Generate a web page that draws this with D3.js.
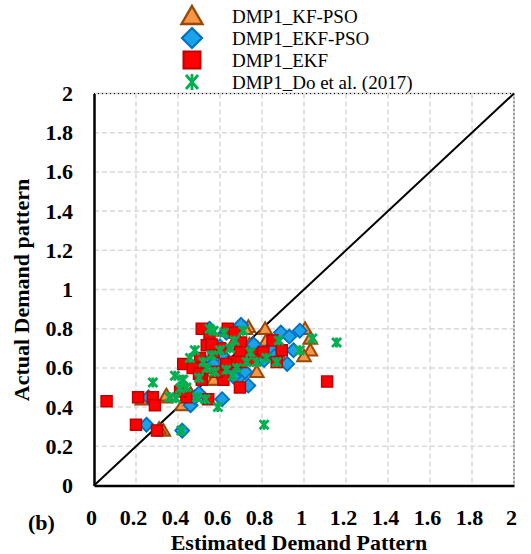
<!DOCTYPE html>
<html><head><meta charset="utf-8">
<script src="https://cdn.jsdelivr.net/npm/d3@7"></script>
<style>body{margin:0;background:#fff}svg{display:block}</style>
</head><body>
<svg id="c" width="531" height="554"></svg>
<script>
const xTicks = [0,0.2,0.4,0.6,0.8,1,1.2,1.4,1.6,1.8,2];
const yTicks = [0,0.2,0.4,0.6,0.8,1,1.2,1.4,1.6,1.8,2];
const seriesNames = ["DMP1_KF-PSO","DMP1_EKF-PSO","DMP1_EKF","DMP1_Do et al. (2017)"];
const kfPso = [[0.23,0.44],[0.34,0.45],[0.345,0.46],[0.33,0.28],[0.42,0.41],[0.31,0.29],[0.54,0.54],[0.57,0.54],[0.735,0.81],[0.815,0.80],[1.005,0.80],[1.03,0.75],[1.03,0.69],[1.0,0.66],[0.775,0.58],[0.82,0.74],[0.74,0.72],[0.88,0.67],[0.72,0.80],[0.62,0.79],[0.66,0.72],[0.60,0.62],[0.46,0.47],[0.52,0.60],[0.70,0.66],[0.78,0.70],[0.68,0.61]];
const ekfPso = [[0.25,0.31],[0.26,0.45],[0.42,0.28],[0.46,0.41],[0.48,0.45],[0.61,0.44],[0.735,0.51],[0.695,0.555],[0.72,0.58],[0.665,0.555],[0.89,0.78],[0.93,0.76],[0.98,0.79],[0.95,0.69],[0.92,0.62],[0.84,0.70],[0.81,0.64],[0.76,0.72],[0.70,0.82],[0.55,0.80],[0.60,0.71],[0.61,0.665],[0.50,0.47],[0.52,0.64],[0.64,0.60],[0.57,0.62],[0.77,0.66],[0.86,0.66],[0.63,0.78]];
const ekf = [[0.06,0.43],[0.21,0.45],[0.28,0.45],[0.29,0.41],[0.20,0.31],[0.30,0.28],[0.513,0.80],[0.637,0.80],[0.67,0.78],[0.70,0.73],[0.55,0.76],[0.537,0.715],[0.695,0.68],[0.75,0.67],[0.806,0.68],[0.85,0.74],[0.894,0.69],[0.425,0.62],[0.505,0.65],[0.505,0.58],[0.513,0.54],[0.616,0.54],[0.695,0.50],[0.665,0.63],[0.70,0.63],[0.57,0.68],[0.585,0.58],[0.44,0.45],[0.544,0.44],[1.11,0.53],[0.51,0.60],[0.87,0.63],[0.41,0.48],[0.60,0.70],[0.63,0.62],[0.47,0.60],[0.56,0.72],[0.76,0.64],[0.50,0.57]];
const doEtAl = [[0.28,0.525],[0.39,0.445],[0.385,0.56],[0.42,0.54],[0.44,0.50],[0.81,0.31],[1.155,0.73],[0.416,0.28],[0.57,0.79],[0.71,0.79],[0.67,0.74],[0.88,0.74],[1.04,0.75],[0.98,0.69],[0.87,0.63],[0.48,0.69],[0.457,0.65],[0.52,0.63],[0.56,0.665],[0.60,0.69],[0.648,0.70],[0.745,0.68],[0.775,0.63],[0.82,0.65],[0.63,0.59],[0.575,0.58],[0.425,0.54],[0.41,0.495],[0.49,0.45],[0.53,0.44],[0.59,0.40],[0.537,0.60],[0.68,0.60],[0.727,0.63],[0.36,0.45],[0.55,0.80],[0.62,0.78],[0.66,0.56],[0.50,0.55]];

const svg = d3.select("#c");
const L=94, R=514, T=93.5, B=485.5;
const x = d3.scaleLinear().domain([0,2]).range([L,R]);
const y = d3.scaleLinear().domain([0,2]).range([B,T]);
const serif = "'Liberation Serif','Times New Roman',serif";

// grid
const g = svg.append("g");
g.selectAll(".gx").data(xTicks.slice(1,-1)).enter().append("line")
  .attr("x1",d=>x(d)).attr("x2",d=>x(d)).attr("y1",T).attr("y2",B)
  .attr("stroke","#d9d9d9").attr("stroke-width",1.5).attr("stroke-dasharray","5,3");
g.selectAll(".gy").data(yTicks.slice(1,-1)).enter().append("line")
  .attr("y1",d=>y(d)).attr("y2",d=>y(d)).attr("x1",L).attr("x2",R)
  .attr("stroke","#d9d9d9").attr("stroke-width",1.5).attr("stroke-dasharray","5,3");
// top/right dotted borders
svg.append("line").attr("x1",L).attr("x2",R).attr("y1",T).attr("y2",T).attr("stroke","#d9d9d9").attr("stroke-width",2);
svg.append("line").attr("x1",L).attr("x2",R).attr("y1",T).attr("y2",T).attr("stroke","#000").attr("stroke-width",1).attr("stroke-dasharray","1,3");
svg.append("line").attr("x1",R).attr("x2",R).attr("y1",T).attr("y2",B).attr("stroke","#d9d9d9").attr("stroke-width",2);
svg.append("line").attr("x1",R).attr("x2",R).attr("y1",T).attr("y2",B).attr("stroke","#000").attr("stroke-width",1).attr("stroke-dasharray","1,3");

// axes
const xAxis = svg.append("g").attr("transform",`translate(0,${B})`)
  .call(d3.axisBottom(x).tickValues(xTicks).tickSize(0).tickFormat(d3.format("~g")));
xAxis.select(".domain").attr("stroke","#000").attr("stroke-width",2.5);
xAxis.selectAll("text").attr("font-family",serif).attr("font-weight","bold").attr("font-size",22)
  .attr("fill","#000").attr("dy",0).attr("y",39).attr("dx",-3);
const yAxis = svg.append("g").attr("transform",`translate(${L},0)`)
  .call(d3.axisLeft(y).tickValues(yTicks).tickSize(0).tickFormat(d3.format("~g")));
yAxis.select(".domain").attr("stroke","#000").attr("stroke-width",2.5);
yAxis.selectAll("text").attr("font-family",serif).attr("font-weight","bold").attr("font-size",22)
  .attr("fill","#000").attr("x",-21);

// diagonal
svg.append("line").attr("x1",x(0)).attr("y1",y(0)).attr("x2",x(2)).attr("y2",y(2))
  .attr("stroke","#000").attr("stroke-width",2);

// markers
const triPath = r => `M0,${-r}L${r*1.05},${r*0.8}L${-r*1.05},${r*0.8}Z`;
const diaPath = r => `M0,${-r}L${r},0L0,${r}L${-r},0Z`;
const sqPath = r => `M${-r},${-r}H${r}V${r}H${-r}Z`;
function drawStar(sel){
  sel.append("path").attr("d","M-4.5,-4.5L4.5,4.5M-4.5,4.5L4.5,-4.5M0,-5L0,5").attr("stroke","#00b050").attr("stroke-width",2.8).attr("fill","none");
}
const styles = [
  {data:kfPso, draw:s=>s.append("path").attr("d",triPath(6.5)).attr("fill","#f79646").attr("stroke","#984807").attr("stroke-width",2)},
  {data:ekfPso, draw:s=>s.append("path").attr("d",diaPath(7)).attr("fill","#1aa3e8").attr("stroke","#0070c0").attr("stroke-width",1.8)},
  {data:ekf, draw:s=>s.append("path").attr("d",sqPath(5.5)).attr("fill","#ff0000").attr("stroke","#c00000").attr("stroke-width",1.5)},
  {data:doEtAl, draw:drawStar}
];
styles.forEach(st=>{
  svg.append("g").selectAll("g").data(st.data).enter().append("g")
    .attr("transform",d=>`translate(${x(d[0])},${y(d[1])})`).call(st.draw);
});

// legend
const legY = [16,38,60,82];
const lg = svg.append("g");
seriesNames.forEach((n,i)=>{
  const gg = lg.append("g").attr("transform",`translate(192,${legY[i]})`);
  if(i===0) gg.append("path").attr("d",triPath(10)).attr("fill","#f79646").attr("stroke","#984807").attr("stroke-width",2.4);
  if(i===1) gg.append("path").attr("d",diaPath(10)).attr("fill","#1aa3e8").attr("stroke","#0070c0").attr("stroke-width",2.2);
  if(i===2) gg.append("path").attr("d",sqPath(8.5)).attr("fill","#ff0000").attr("stroke","#c00000").attr("stroke-width",2);
  if(i===3) gg.append("path").attr("d","M-6,-7L6,7M-6,7L6,-7M0,-8L0,8").attr("stroke","#00b050").attr("stroke-width",2.8).attr("fill","none");
  lg.append("text").attr("x",232).attr("y",legY[i]+7).text(n)
    .attr("font-family",serif).attr("font-size",19).attr("fill","#000");
});

// titles
svg.append("text").attr("x",299).attr("y",550).attr("text-anchor","middle")
  .attr("font-family",serif).attr("font-weight","bold").attr("font-size",22).text("Estimated Demand Pattern");
svg.append("text").attr("transform","translate(29,290) rotate(-90)").attr("text-anchor","middle")
  .attr("font-family",serif).attr("font-weight","bold").attr("font-size",22).text("Actual Demand pattern");
svg.append("text").attr("x",28).attr("y",530)
  .attr("font-family",serif).attr("font-weight","bold").attr("font-size",22).text("(b)");
</script>
</body></html>
